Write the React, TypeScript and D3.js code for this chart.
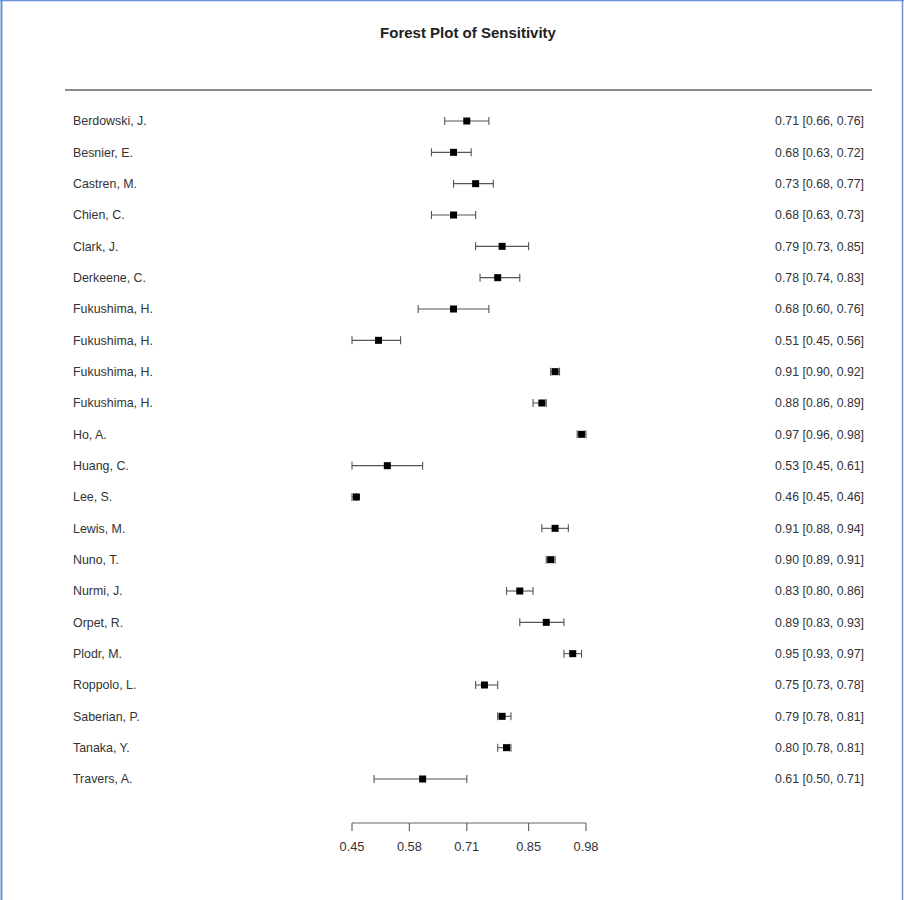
import React from "react";
import * as d3 from "d3";

// Study names, point estimates and 95% confidence bounds
const studies = [
  "Berdowski, J.", "Besnier, E.", "Castren, M.", "Chien, C.", "Clark, J.",
  "Derkeene, C.", "Fukushima, H.", "Fukushima, H.", "Fukushima, H.", "Fukushima, H.",
  "Ho, A.", "Huang, C.", "Lee, S.", "Lewis, M.", "Nuno, T.", "Nurmi, J.",
  "Orpet, R.", "Plodr, M.", "Roppolo, L.", "Saberian, P.", "Tanaka, Y.", "Travers, A.",
];
const estimates = [
  0.71, 0.68, 0.73, 0.68, 0.79, 0.78, 0.68, 0.51, 0.91, 0.88, 0.97,
  0.53, 0.46, 0.91, 0.90, 0.83, 0.89, 0.95, 0.75, 0.79, 0.80, 0.61,
];
const lowers = [
  0.66, 0.63, 0.68, 0.63, 0.73, 0.74, 0.60, 0.45, 0.90, 0.86, 0.96,
  0.45, 0.45, 0.88, 0.89, 0.80, 0.83, 0.93, 0.73, 0.78, 0.78, 0.50,
];
const uppers = [
  0.76, 0.72, 0.77, 0.73, 0.85, 0.83, 0.76, 0.56, 0.92, 0.89, 0.98,
  0.61, 0.46, 0.94, 0.91, 0.86, 0.93, 0.97, 0.78, 0.81, 0.81, 0.71,
];
const tickValues = [0.45, 0.58, 0.71, 0.85, 0.98];

const W = 904;
const H = 900;
const font = "'Liberation Sans', Arial, Helvetica, sans-serif";

export default function App() {
  const x = d3.scaleLinear().domain([0.45, 0.98]).range([352, 586]);
  const y = d3
    .scalePoint<number>()
    .domain(d3.range(studies.length))
    .range([121, 779]);
  const axisY = 823;
  const fmt = d3.format(".2f");

  return (
    <svg
      width={W}
      height={H}
      style={{ position: "absolute", left: 0, top: 0, background: "#fff" }}
      fontFamily={font}
    >
      {/* frame */}
      <line x1={1.5} y1={0} x2={1.5} y2={H} stroke="#6592d8" strokeWidth={2} />
      <line x1={0} y1={0.5} x2={W} y2={0.5} stroke="#6592d8" strokeWidth={1.5} />
      <line x1={902.5} y1={0} x2={902.5} y2={H} stroke="#6592d8" strokeWidth={1.5} />

      <text
        x={468}
        y={38}
        textAnchor="middle"
        fontSize={15}
        fontWeight="bold"
        fill="#222"
      >
        Forest Plot of Sensitivity
      </text>

      <line x1={65} y1={90} x2={872} y2={90} stroke="#8c8c8c" strokeWidth={2} />

      {studies.map((name, i) => {
        const cy = y(i) as number;
        const xl = x(lowers[i]);
        const xu = x(uppers[i]);
        const xe = x(estimates[i]);
        return (
          <g key={i}>
            <text x={73} y={cy} dy="0.35em" fontSize={12.4} fill="#333">
              {name}
            </text>
            <line x1={xl} y1={cy} x2={xu} y2={cy} stroke="#555" strokeWidth={1.1} />
            <line x1={xl} y1={cy - 4} x2={xl} y2={cy + 4} stroke="#555" strokeWidth={1.1} />
            <line x1={xu} y1={cy - 4} x2={xu} y2={cy + 4} stroke="#555" strokeWidth={1.1} />
            <rect x={xe - 3.5} y={cy - 3.5} width={7} height={7} fill="#000" />
            <text
              x={864}
              y={cy}
              dy="0.35em"
              fontSize={12.3}
              fill="#333"
              textAnchor="end"
            >
              {`${fmt(estimates[i])} [${fmt(lowers[i])}, ${fmt(uppers[i])}]`}
            </text>
          </g>
        );
      })}

      {/* x axis */}
      <line
        x1={x(tickValues[0])}
        y1={axisY}
        x2={x(tickValues[tickValues.length - 1])}
        y2={axisY}
        stroke="#666"
        strokeWidth={1.2}
      />
      {tickValues.map((t) => (
        <g key={t}>
          <line x1={x(t)} y1={axisY} x2={x(t)} y2={axisY + 8} stroke="#666" strokeWidth={1.2} />
          <text
            x={x(t)}
            y={847}
            dy="0.35em"
            textAnchor="middle"
            fontSize={12.8}
            fill="#333"
          >
            {fmt(t)}
          </text>
        </g>
      ))}
    </svg>
  );
}
